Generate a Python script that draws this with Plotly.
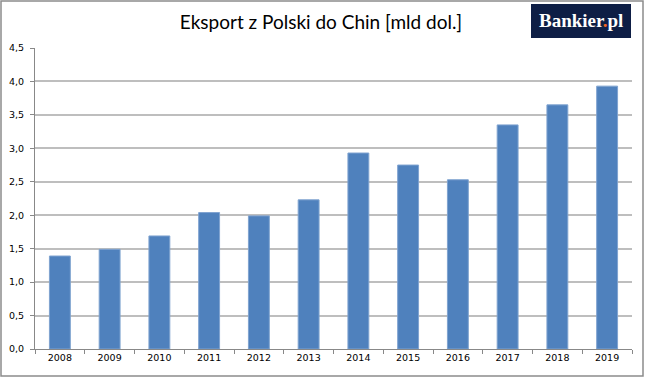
import plotly.graph_objects as go

years = ["2008", "2009", "2010", "2011", "2012", "2013", "2014", "2015", "2016", "2017", "2018", "2019"]
export_bn_usd = [1.39, 1.49, 1.69, 2.04, 1.99, 2.23, 2.93, 2.75, 2.53, 3.35, 3.65, 3.93]
y_ticks = [0, 0.5, 1.0, 1.5, 2.0, 2.5, 3.0, 3.5, 4.0, 4.5]
title_text = "Eksport z Polski do Chin [mld dol.]"

W, H = 645, 378
ML, MR, MT, MB = 35, 13, 48, 29
PW, PH = W - ML - MR, H - MT - MB

def px_x(p):
    return (p - ML) / PW

def px_y(p):
    return (H - MB - p) / PH

fig = go.Figure(
    go.Bar(
        x=years,
        y=export_bn_usd,
        marker=dict(color="#4F81BD", line=dict(color="#7FA3D0", width=1)),
    )
)

fig.update_layout(
    width=W,
    height=H,
    margin=dict(l=ML, r=MR, t=MT, b=MB, autoexpand=False),
    paper_bgcolor="white",
    plot_bgcolor="white",
    bargap=0.58,
    separators=", ",
    showlegend=False,
    font=dict(family="DejaVu Sans", size=10, color="#000000"),
    title=dict(
        text=title_text,
        x=321 / W,
        xanchor="center",
        y=1 - 22 / H,
        yanchor="middle",
        font=dict(family="Lato", size=19, color="#000000"),
    ),
)

fig.update_xaxes(
    type="category",
    automargin=False,
    showline=True,
    linecolor="#888888",
    linewidth=1,
    ticks="outside",
    tickson="boundaries",
    ticklen=4,
    tickcolor="#888888",
    showgrid=False,
    tickfont=dict(family="DejaVu Sans", size=9.5),
)

fig.update_yaxes(
    range=[0, 4.5],
    automargin=False,
    tickvals=y_ticks,
    tickformat=".1f",
    showline=True,
    linecolor="#888888",
    linewidth=1,
    ticks="outside",
    ticklen=4,
    tickcolor="#888888",
    ticklabelstandoff=4,
    showgrid=True,
    gridcolor="#BEBEBE",
    gridwidth=1.5,
    zeroline=False,
    tickfont=dict(family="DejaVu Sans", size=9.5),
)

# outer border
fig.add_shape(
    type="rect", xref="paper", yref="paper",
    x0=px_x(1), x1=px_x(W - 2), y0=px_y(H - 2), y1=px_y(1),
    line=dict(color="#8C8C8C", width=1.5), fillcolor="rgba(0,0,0,0)", layer="above",
)

# logo
fig.add_shape(
    type="rect", xref="paper", yref="paper",
    x0=px_x(531), x1=px_x(631), y0=px_y(38), y1=px_y(4),
    line=dict(width=0), fillcolor="#0E1E45", layer="above",
)
fig.add_annotation(
    xref="paper", yref="paper",
    x=px_x(581), y=px_y(21),
    xanchor="center", yanchor="middle",
    text="Bankier<span style='color:#F26522'>.</span>pl",
    showarrow=False,
    font=dict(family="Liberation Serif", size=19, color="white", weight="bold"),
)

fig.write_html(
    "out.html",
    config={"displayModeBar": False},
    post_script="document.body.style.margin='0';document.body.style.overflow='hidden';",
)
